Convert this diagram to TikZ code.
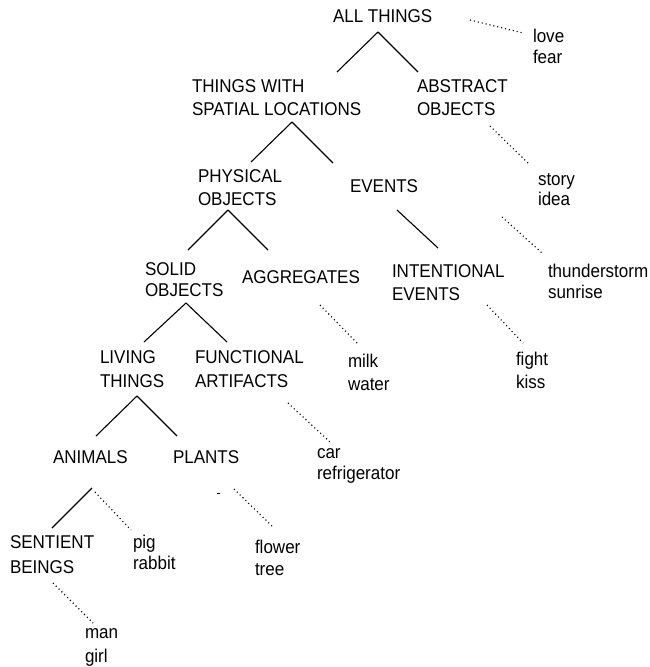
\documentclass[tikz,border=0pt]{standalone}
\usepackage{fontspec}
\setmainfont[FakeStretch=0.92]{Liberation Sans}
\usetikzlibrary{calc}
\newcommand\twoline[3][23pt]{\vtop{\baselineskip=#1\lineskiplimit=-100pt\lineskip=0pt\hbox{#2}\hbox{#3}}}
\tikzset{
  lbl/.style={inner sep=0pt, outer sep=0pt, anchor=base west, font=\fontsize{18.5}{23}\selectfont},
  treeline/.style={line width=1.1pt, black},
  dotline/.style={line width=1.1pt, black, dash pattern=on 1.1pt off 2.9pt}
}
\begin{document}
\begin{tikzpicture}[x=1pt, y=-1pt]
\useasboundingbox (0,0) rectangle (650,667);
% labels
\node[lbl] (all) at (333,22) {ALL THINGS};
\node[lbl] (lf) at (533,42) {\twoline[21pt]{love}{fear}};
\node[lbl] (spatial) at (192,92) {\twoline{THINGS WITH}{SPATIAL LOCATIONS}};
\node[lbl] (abstract) at (417,92) {\twoline{ABSTRACT}{OBJECTS}};
\node[lbl] (phys) at (198,182) {\twoline{PHYSICAL}{OBJECTS}};
\node[lbl] (events) at (350,192) {EVENTS};
\node[lbl] (si) at (538,185) {\twoline[20pt]{story}{idea}};
\node[lbl] (solid) at (145,275) {\twoline[21pt]{SOLID}{OBJECTS}};
\node[lbl] (aggr) at (242,283) {AGGREGATES};
\node[lbl] (intent) at (392,277) {\twoline{INTENTIONAL}{EVENTS}};
\node[lbl] (ts) at (548,277) {\twoline[21pt]{thunderstorm}{sunrise}};
\node[lbl] (living) at (100,363) {\twoline[24pt]{LIVING}{THINGS}};
\node[lbl] (func) at (195,363) {\twoline[24pt]{FUNCTIONAL}{ARTIFACTS}};
\node[lbl] (mw) at (348,367) {\twoline{milk}{water}};
\node[lbl] (fk) at (516,365) {\twoline{fight}{kiss}};
\node[lbl] (animals) at (53,463) {ANIMALS};
\node[lbl] (plants) at (173,463) {PLANTS};
\node[lbl] (car) at (317,458) {\twoline[21pt]{car}{refrigerator}};
\node[lbl] (sentient) at (10,548) {\twoline[25pt]{SENTIENT}{BEINGS}};
\node[lbl] (pr) at (133,548) {\twoline[21pt]{pig}{rabbit}};
\node[lbl] (ft) at (255,553) {\twoline[22pt]{flower}{tree}};
\node[lbl] (mg) at (85,638) {\twoline[24pt]{man}{girl}};
% tree connectors
\draw[treeline] ($(all.base west)+(45,10)$) -- ($(spatial.base west)+(145,-20)$);
\draw[treeline] ($(all.base west)+(45,10)$) -- ($(abstract.base west)+(1,-20)$);
\draw[treeline] ($(spatial.base west)+(100,30)$) -- ($(phys.base west)+(53,-20)$);
\draw[treeline] ($(spatial.base west)+(100,30)$) -- ($(events.base west)+(-17,-29)$);
\draw[treeline] ($(phys.base west)+(30,28)$) -- ($(solid.base west)+(43,-25)$);
\draw[treeline] ($(phys.base west)+(30,28)$) -- ($(aggr.base west)+(26,-33)$);
\draw[treeline] ($(events.base west)+(47,18)$) -- ($(intent.base west)+(46,-29)$);
\draw[treeline] ($(solid.base west)+(41,28)$) -- ($(living.base west)+(44,-21)$);
\draw[treeline] ($(solid.base west)+(41,28)$) -- ($(func.base west)+(32,-21)$);
\draw[treeline] ($(living.base west)+(37,33)$) -- ($(animals.base west)+(43,-27)$);
\draw[treeline] ($(living.base west)+(37,33)$) -- ($(plants.base west)+(4,-27)$);
\draw[treeline] ($(animals.base west)+(39,25)$) -- ($(sentient.base west)+(42,-20)$);
% dotted connectors to examples
\draw[dotline] ($(all.base west)+(137,-2)$) -- ($(lf.base west)+(-10,-9)$);
\draw[dotline] ($(abstract.base west)+(73,34)$) -- ($(si.base west)+(-10,-22)$);
\draw[dotline] ($(events.base west)+(152,25)$) -- ($(ts.base west)+(-6,-24)$);
\draw[dotline] ($(aggr.base west)+(78,22)$) -- ($(mw.base west)+(9,-24)$);
\draw[dotline] ($(intent.base west)+(95,28)$) -- ($(fk.base west)+(7,-22)$);
\draw[dotline] ($(func.base west)+(93,40)$) -- ($(car.base west)+(13,-16)$);
\draw[dotline] ($(animals.base west)+(42,29)$) -- ($(pr.base west)+(-2,-18)$);
\draw[dotline] ($(plants.base west)+(61,26)$) -- ($(ft.base west)+(18,-26)$);
\draw[line width=0.8pt] ($(plants.base west)+(44,30)$) -- ($(plants.base west)+(47,30)$);
\draw[dotline] ($(sentient.base west)+(43,35)$) -- ($(mg.base west)+(8,-15)$);
\end{tikzpicture}
\end{document}
